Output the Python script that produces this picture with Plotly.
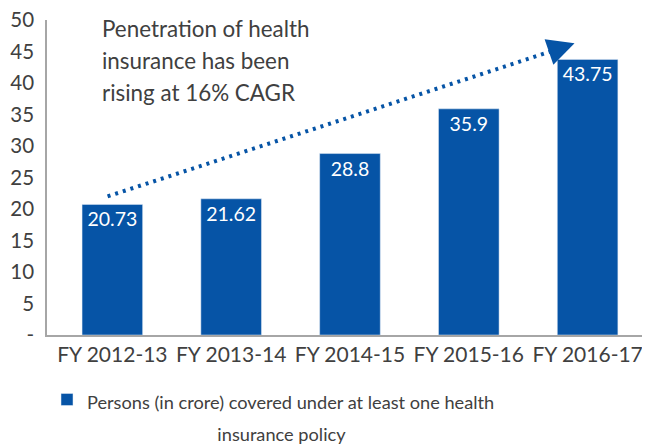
import plotly.graph_objects as go

categories = ["FY 2012-13", "FY 2013-14", "FY 2014-15", "FY 2015-16", "FY 2016-17"]
values = [20.73, 21.62, 28.8, 35.9, 43.75]
value_labels = ["20.73", "21.62", "28.8", "35.9", "43.75"]
y_tick_vals = [0, 5, 10, 15, 20, 25, 30, 35, 40, 45, 50]
y_tick_text = ["-", "5", "10", "15", "20", "25", "30", "35", "40", "45", "50"]
series_name = "Persons (in crore) covered under at least one health"
series_name_2 = "insurance policy"

BLUE = "#0654A6"
GRAY = "#404040"
FONT = "Lato"

# the page body has an 8px margin, so the figure is drawn 8px smaller
W, H = 642, 436

pad = "\u00a0" * 28
legend_name = ('<span style="font-size:18.2px">' + series_name + '</span><br>'
               '<span style="font-size:18.2px">' + pad + series_name_2 + '</span>')

fig = go.Figure()
fig.add_trace(go.Bar(
    x=list(range(len(categories))), y=values, name=legend_name,
    marker_color=BLUE, width=0.51,
    text=value_labels, textposition="inside", insidetextanchor="end",
    textfont=dict(color="white", size=19.5, family=FONT), textangle=0,
    cliponaxis=False,
))

# trend arrow (decorative)
fig.add_shape(type="line", xref="x", yref="y", x0=-0.04, y0=22.0, x1=3.72, y1=45.2,
              line=dict(color=BLUE, width=4, dash="3px,5px"))
fig.add_annotation(xref="x", yref="y", axref="x", ayref="y", x=3.89, y=46.3, ax=3.72, ay=45.2,
                   showarrow=True, arrowhead=2, arrowsize=1.8, arrowwidth=3, arrowcolor=BLUE, text="")

note = "<br>".join('<span style="font-size:22.4px">' + s + '</span>' for s in
                   ["Penetration of health", "insurance has been", "rising at 16% CAGR"])
fig.add_annotation(xref="paper", yref="paper", x=(100-47)/600, y=1+7/315, xanchor="left", yanchor="top",
                   text=note, showarrow=False, align="left",
                   font=dict(size=24.6, color=GRAY, family=FONT))

fig.update_layout(
    width=W, height=H,
    margin=dict(l=39, r=3, t=12, b=109),
    plot_bgcolor="white", paper_bgcolor="white",
    font=dict(family=FONT, color=GRAY, size=21),
    showlegend=True,
    legend=dict(orientation="h", xref="container", yref="container",
                x=39/W, xanchor="left", y=1-369/H, yanchor="top",
                valign="top", font=dict(size=24.6, color=GRAY, family=FONT)),
    xaxis=dict(range=[-0.55, 4.5], tickmode="array", tickvals=list(range(len(categories))),
               ticktext=categories, showline=True, linecolor="#A6A6A6", linewidth=2,
               showgrid=False, zeroline=False, ticks="", automargin=False,
               ticklabeloverflow="allow"),
    yaxis=dict(range=[0, 50.0], tickmode="array", tickvals=y_tick_vals, ticktext=y_tick_text,
               showline=True, linecolor="#A6A6A6", linewidth=1.5, showgrid=False, zeroline=False,
               ticks="outside", ticklen=7, tickcolor="rgba(0,0,0,0)", automargin=False,
               ticklabeloverflow="allow", tickfont=dict(size=20.5)),
)

fig.write_html("out.html")
